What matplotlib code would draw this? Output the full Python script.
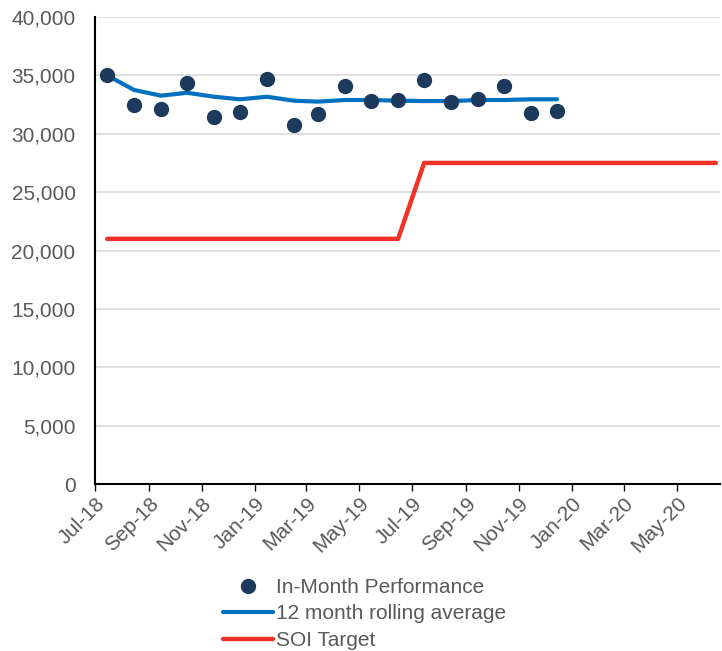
import matplotlib
matplotlib.use("Agg")
import matplotlib.pyplot as plt
import matplotlib.dates as mdates
import pandas as pd

plt.rcParams['font.family'] = ['Liberation Sans', 'DejaVu Sans']

# Monthly data (plotted mid-month)
perf_months = pd.date_range("2018-07-01", periods=18, freq="MS") + pd.Timedelta(days=14)
in_month = [35000, 32460, 32120, 34370, 31410, 31890, 34660, 30780, 31670,
            34120, 32830, 32890, 34600, 32690, 32980, 34120, 31750, 31970]
rolling_avg = [35000, 33750, 33260, 33510, 33170, 32950, 33170, 32830, 32750,
               32890, 32890, 32830, 32800, 32800, 32890, 32890, 32950, 32950]

target_months = pd.date_range("2018-07-01", periods=24, freq="MS") + pd.Timedelta(days=14)
soi_target = [21000] * 12 + [27500] * 12

text_col = "#595959"

fig = plt.figure(figsize=(7.22, 6.51), dpi=100)
ax = fig.add_axes([0.1316, 0.2565, 0.866, 0.7174])

ax.plot(perf_months, in_month, 'o', color="#1B3A5C", markersize=10,
        label="In-Month Performance", zorder=4)
ax.plot(perf_months, rolling_avg, color="#0070C0", lw=3, label="12 month rolling average",
        solid_capstyle='round', zorder=3)
ax.plot(target_months, soi_target, color="#F03228", lw=3.2, label="SOI Target",
        solid_capstyle='round', zorder=3)

ax.set_ylim(0, 40000)
ax.set_yticks(range(0, 40001, 5000))
ax.yaxis.set_major_formatter(matplotlib.ticker.FuncFormatter(lambda v, p: f"{int(v):,}"))
ax.yaxis.grid(True, color="#D9D9D9", lw=1.2)
ax.set_axisbelow(True)

ax.set_xlim(pd.Timestamp("2018-07-01"), pd.Timestamp("2020-06-20"))
ax.xaxis.set_major_locator(mdates.MonthLocator(bymonth=[1, 3, 5, 7, 9, 11]))
ax.xaxis.set_major_formatter(mdates.DateFormatter("%b-%y"))

for s in ['top', 'right']:
    ax.spines[s].set_visible(False)
for s in ['left', 'bottom']:
    ax.spines[s].set_color('black')
    ax.spines[s].set_linewidth(1.5)

ax.tick_params(axis='y', length=0, labelsize=15, labelcolor=text_col, pad=14)
ax.tick_params(axis='x', length=5, width=1, labelsize=15, labelcolor=text_col, pad=2)
for lbl in ax.get_xticklabels():
    lbl.set_rotation(45)
    lbl.set_ha('right')
    lbl.set_rotation_mode('anchor')

fig.legend(loc='upper center', bbox_to_anchor=(0.505, 0.125), frameon=False,
           fontsize=15, labelcolor=text_col, handlelength=2.4, handletextpad=0.15,
           labelspacing=0.36, borderaxespad=0)

fig.savefig("out.png", dpi=100)
